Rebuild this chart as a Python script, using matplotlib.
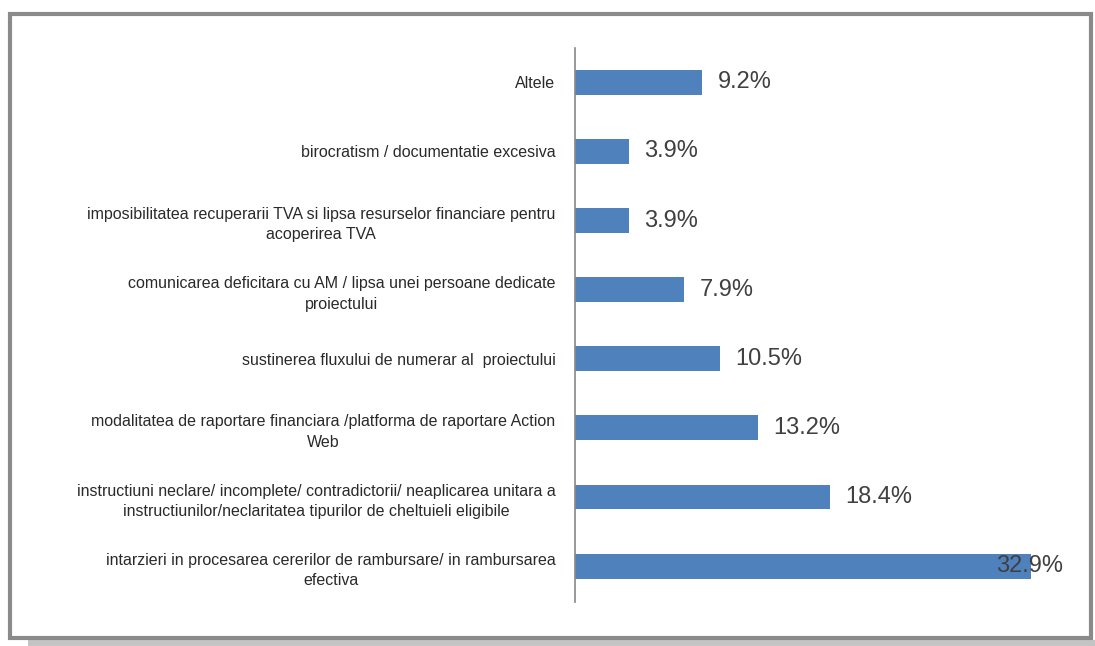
import matplotlib
matplotlib.use("Agg")
import matplotlib.pyplot as plt
from matplotlib.patches import Rectangle

# --- DATA (top to bottom as shown) ---
categories = [
    "Altele",
    "birocratism / documentatie excesiva",
    "imposibilitatea recuperarii TVA si lipsa resurselor financiare pentru\nacoperirea TVA",
    "comunicarea deficitara cu AM / lipsa unei persoane dedicate\nproiectului",
    "sustinerea fluxului de numerar al  proiectului",
    "modalitatea de raportare financiara /platforma de raportare Action\nWeb",
    "instructiuni neclare/ incomplete/ contradictorii/ neaplicarea unitara a\ninstructiunilor/neclaritatea tipurilor de cheltuieli eligibile",
    "intarzieri in procesarea cererilor de rambursare/ in rambursarea\nefectiva",
]
values = [9.2, 3.9, 3.9, 7.9, 10.5, 13.2, 18.4, 32.9]

# --- STYLE ---
plt.rcParams["font.family"] = ["Liberation Sans", "DejaVu Sans"]
COLOR_BAR = '#4F81BD'
COLOR_TEXT = '#404040'
COLOR_FRAME = '#8a8a8a'

fig = plt.figure(figsize=(10.95, 6.46), dpi=100)
ax = fig.add_axes([0.525, 0.068, 0.443, 0.858])

# bottom-to-top order for barh
cats = categories[::-1]
vals = values[::-1]
pos = list(range(len(cats)))

ax.barh(pos, vals, height=0.36, color=COLOR_BAR)
ax.set_ylim(-0.52, len(cats) - 0.5)
ax.set_xlim(0, 35)

ax.set_yticks(pos)
ax.set_yticklabels(cats, fontsize=11.5, color='#2a2a2a')
for lbl in ax.get_yticklabels():
    lbl.set_multialignment('center')
    lbl.set_linespacing(1.45)
ax.tick_params(axis='y', length=0, pad=14)
ax.set_xticks([])

for s in ['top', 'right', 'bottom']:
    ax.spines[s].set_visible(False)
ax.spines['left'].set_color('#888888')
ax.spines['left'].set_linewidth(1.2)

# value labels
vmax = max(vals)
for p, v in zip(pos, vals):
    off = -25 if v == vmax else 11
    ax.annotate(f"{v:.1f}%", xy=(v, p), xytext=(off, 0), textcoords='offset points',
                ha='left', va='center', fontsize=17, color=COLOR_TEXT)

# outer frame and shadow
W, H = 1095, 646
fig.patches.append(Rectangle((28 / W, 0), 1 - 28 / W, 6 / H, transform=fig.transFigure,
                             facecolor='#c4c4c4', edgecolor='none', zorder=0))
fig.patches.append(Rectangle((10 / W, 8 / H), 1081 / W, 624 / H, transform=fig.transFigure,
                             facecolor='none', edgecolor=COLOR_FRAME, linewidth=3, zorder=5))

fig.savefig("out.png", dpi=100)
plt.close(fig)
